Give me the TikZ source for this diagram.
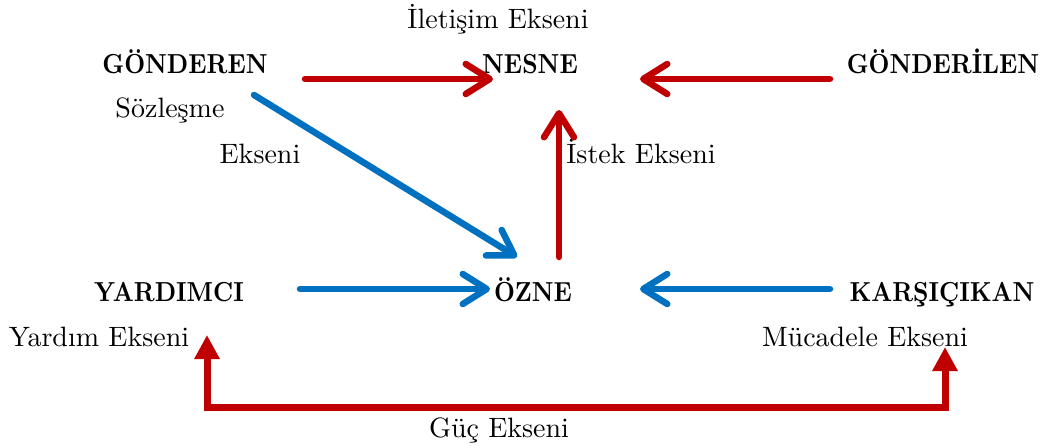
\documentclass[tikz,border=0pt]{standalone}
\usepackage{fontspec}
\usepackage{graphicx}
\setmainfont{lmroman10-regular.otf}[BoldFont=lmroman10-bold.otf]
\usetikzlibrary{arrows.meta}
\definecolor{axred}{HTML}{C00000}
\definecolor{axblue}{HTML}{0070C0}
% slightly narrowed bold caps for the actant names
\newcommand{\actantname}[1]{\scalebox{0.88}[1]{#1}}
\begin{document}
\begin{tikzpicture}[x=1pt,y=-1pt,
  actant/.style={font=\fontsize{27.5}{30}\selectfont\bfseries, inner sep=0pt, anchor=base},
  axislabel/.style={font=\fontsize{28}{32}\selectfont, inner sep=0pt, anchor=base},
  barb/.style={line width=6.5pt, line cap=round, -{Straight Barb[length=24pt,width=30pt,round]}},
  redarrow/.style={barb, draw=axred},
  bluearrow/.style={barb, draw=axblue},
  power/.style={draw=axred, line width=7pt,
    {Triangle[length=24pt,width=24pt]}-{Triangle[length=24pt,width=24pt]}}
]
\useasboundingbox (0,0) rectangle (1043,446);

% actants
\node[actant] (gonderen)   at (185,74)  {\actantname{GÖNDEREN}};
\node[actant] (nesne)      at (530,74)  {\actantname{NESNE}};
\node[actant] (gonderilen) at (943,74)  {\actantname{GÖNDERİLEN}};
\node[actant] (yardimci)   at (169,301) {\actantname{YARDIMCI}};
\node[actant] (ozne)       at (533,301) {\actantname{ÖZNE}};
\node[actant] (karsi)      at (942,301) {\actantname{KARŞIÇIKAN}};

% axis names
\node[axislabel] (iletisim) at (498,29)  {İletişim Ekseni};
\node[axislabel] (sozlesme) at (170,118) {Sözleşme};
\node[axislabel] (ekseni)   at (260,164) {Ekseni};
\node[axislabel] (istek)    at (641,164) {İstek Ekseni};
\node[axislabel] (yardim)   at (99,346)  {Yardım Ekseni};
\node[axislabel] (mucadele) at (865,346) {Mücadele Ekseni};
\node[axislabel] (guc)      at (499,437) {Güç Ekseni};

% connector ends
\coordinate (gonderen-r)   at (305,79);
\coordinate (nesne-l)      at (493,79);
\coordinate (gonderilen-l) at (830,79);
\coordinate (nesne-r)      at (640,79);
\coordinate (gonderen-d)   at (254,95);
\coordinate (ozne-tl)      at (517,257);
\coordinate (ozne-t)       at (559,257);
\coordinate (nesne-b)      at (559,110);
\coordinate (yardimci-r)   at (300,289);
\coordinate (ozne-l)       at (490,289);
\coordinate (karsi-l)      at (830,289);
\coordinate (ozne-r)       at (640,289);
\coordinate (yardim-b)     at (207,335);
\coordinate (mucadele-b)   at (945,347);
\coordinate (power-base)   at (0,407);

% communication and desire axes
\draw[redarrow] (gonderen-r) -- (nesne-l);
\draw[redarrow] (gonderilen-l) -- (nesne-r);
\draw[redarrow] (ozne-t) -- (nesne-b);

% contract, help and struggle axes
\draw[bluearrow] (gonderen-d) -- (ozne-tl);
\draw[bluearrow] (yardimci-r) -- (ozne-l);
\draw[bluearrow] (karsi-l) -- (ozne-r);

% power axis
\draw[power] (yardim-b) -- (yardim-b |- power-base) -- (mucadele-b |- power-base) -- (mucadele-b);
\end{tikzpicture}
\end{document}
